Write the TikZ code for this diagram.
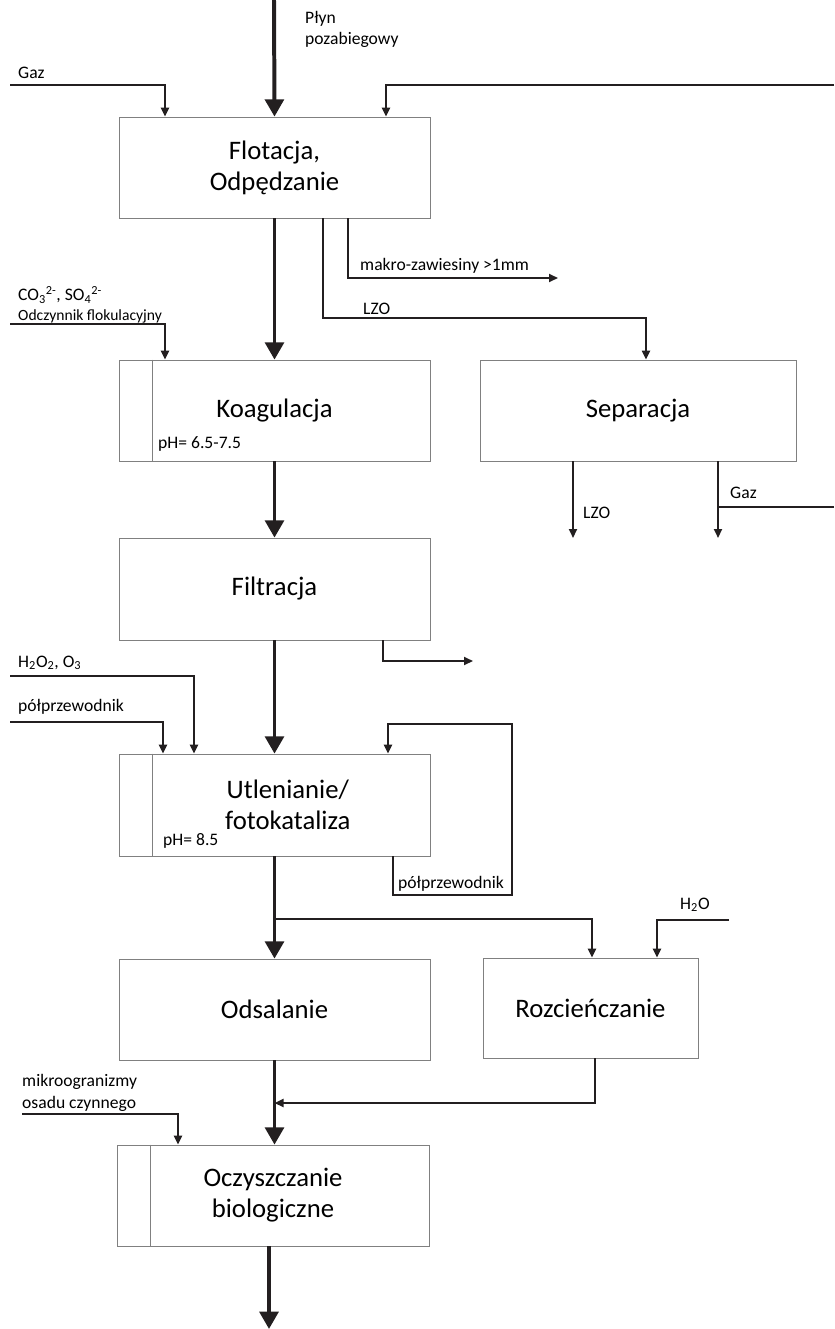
\documentclass[tikz,border=0pt]{standalone}
\usepackage{fontspec}
\setmainfont{Carlito}
\usepackage{xcolor}
\usepackage{tikz}
\usetikzlibrary{arrows.meta}
\definecolor{ciemny}{HTML}{231F20}
\definecolor{ramka}{HTML}{808080}
\tikzset{
box/.style = {rectangle, draw=ramka, line width=0.6pt, minimum width = #1, minimum height=3.03cm, inner sep=0pt, align=center, font=\fontsize{22.8}{26.5}\selectfont},
box/.default = 9.33cm, % width of a process box
gruba/.style = {draw=ciemny, line width=3.4pt, -{Triangle[length=0.52cm, width=0.56cm]}},
cienka/.style = {draw=ciemny, line width=1.7pt, -{Triangle[length=0.27cm, width=0.24cm]}},
linia/.style = {draw=ciemny, line width=1.7pt},
opis/.style = {font=\fontsize{15}{18}\selectfont, inner sep=0pt, anchor=west, align=left},
}

\begin{document}
\begin{tikzpicture}[x=0.03cm, y=-0.03cm]
    \useasboundingbox (0,0) rectangle (834,1329);
    \node[box] (flot) at (274.5,167.5) {Flotacja,\\Odpędzanie};
    \node[box] (koag) at (274.5,410.5) {Koagulacja};
    \node[box=9.48cm] (sep) at (638,410.5) {Separacja};
    \node[box, minimum height=3.06cm] (filt) at (274.5,589) {Filtracja};
    \node[box, minimum height=3.06cm] (utl) at (274.5,805) {\hspace*{0.8cm}Utlenianie/\\\hspace*{0.8cm}fotokataliza};
    \node[box] (ods) at (274.5,1009.5) {Odsalanie};
    \node[box=6.45cm, minimum height=3cm] (rozc) at (590.5,1008) {Rozcieńczanie};
    \node[box=9.36cm] (oczy) at (273,1195.5) {Oczyszczanie\\biologiczne};
    \foreach \n in {koag, utl, oczy}
        \draw[ramka, line width=0.6pt] ([xshift=1cm]\n.north west) -- ([xshift=1cm]\n.south west);
    \node[opis] (phkoag) at (158,444) {pH= 6.5-7.5};
    \node[opis] (phutl) at (163,841) {pH= 8.5};

    % wejscia do flotacji
    \coordinate (plyn) at (274,0);
    \draw[gruba] (plyn) -- (flot.north);
    \node[opis] (plynopis) at (305,29.5) {Płyn\\pozabiegowy};
    \coordinate (gaz1) at (10,85);
    \coordinate (gaz1k) at (165,85);
    \draw[cienka] (gaz1) -- (gaz1k) -- (gaz1k |- flot.north);
    \node[opis] (gaz1opis) at (18,73) {Gaz};
    \coordinate (powrot) at (834,85);
    \coordinate (powrotk) at (386,85);
    \draw[cienka] (powrot) -- (powrotk) -- (powrotk |- flot.north);

    \draw[gruba] (flot.south) -- (koag.north);
    \coordinate (makro) at (348,278);
    \coordinate (makrok) at (558,278);
    \draw[cienka] (makro |- flot.south) -- (makro) -- (makrok);
    \node[opis] (makroopis) at (360,266) {makro-zawiesiny >1mm};
    \coordinate (lzo) at (323,318);
    \coordinate (lzok) at (646,318);
    \draw[cienka] (lzo |- flot.south) -- (lzo) -- (lzok) -- (lzok |- sep.north);
    \node[opis] (lzoopis) at (363,309) {LZO};

    \coordinate (co3) at (10,324);
    \coordinate (co3k) at (165,324);
    \draw[cienka] (co3) -- (co3k) -- (co3k |- koag.north);
    \node[opis] (co3opis) at (18,295) {CO\textsubscript{3}\textsuperscript{2-}, SO\textsubscript{4}\textsuperscript{2-}};
    \node[opis, font=\fontsize{13.3}{16}\selectfont] (flokopis) at (18,316) {Odczynnik flokulacyjny};

    % separacja
    \coordinate (lzo2) at (573,538);
    \draw[cienka] (lzo2 |- sep.south) -- (lzo2);
    \node[opis] (lzo2opis) at (583,513) {LZO};
    \coordinate (gaz2) at (718,538);
    \coordinate (gaz2w) at (834,507);
    \draw[cienka] (gaz2 |- sep.south) -- (gaz2);
    \draw[linia] (gaz2w) -- (gaz2w -| gaz2);
    \node[opis] (gaz2opis) at (730,493) {Gaz};

    \draw[gruba] (koag.south) -- (filt.north);
    \coordinate (filtw) at (383,661);
    \coordinate (filtk) at (473,661);
    \draw[cienka] (filtw |- filt.south) -- (filtw) -- (filtk);

    % utlenianie
    \draw[gruba] (filt.south) -- (utl.north);
    \coordinate (h2o2) at (10,676);
    \coordinate (h2o2k) at (194,676);
    \draw[cienka] (h2o2) -- (h2o2k) -- (h2o2k |- utl.north);
    \node[opis] (h2o2opis) at (18,663) {H\textsubscript{2}O\textsubscript{2}, O\textsubscript{3}};
    \coordinate (polp) at (10,722);
    \coordinate (polpk) at (163,722);
    \draw[cienka] (polp) -- (polpk) -- (polpk |- utl.north);
    \node[opis] (polpopis) at (18,707) {półprzewodnik};
    \coordinate (petla1) at (393,895);
    \coordinate (petla2) at (512,724);
    \coordinate (petla3) at (388,724);
    \draw[cienka] (petla1 |- utl.south) -- (petla1) -| (petla2) -- (petla3) -- (petla3 |- utl.north);
    \node[opis] (petlaopis) at (398,884) {półprzewodnik};

    \draw[gruba] (utl.south) -- (ods.north);
    \coordinate (rozg) at (274,919);
    \coordinate (rozgk) at (592,919);
    \draw[cienka] (rozg) -- (rozgk) -- (rozgk |- rozc.north);
    \coordinate (h2o) at (729,920);
    \coordinate (h2ok) at (657,920);
    \draw[cienka] (h2o) -- (h2ok) -- (h2ok |- rozc.north);
    \node[opis] (h2oopis) at (680,905) {H\textsubscript{2}O};

    % oczyszczanie biologiczne
    \draw[gruba] (ods.south) -- (ods.south |- oczy.north);
    \coordinate (rozcw) at (595,1103);
    \draw[cienka] (rozcw |- rozc.south) -- (rozcw) -- (rozcw -| ods.south);
    \coordinate (mikro) at (22,1114);
    \coordinate (mikrok) at (178,1114);
    \draw[cienka] (mikro) -- (mikrok) -- (mikrok |- oczy.north);
    \node[opis] (mikroopis) at (22,1082) {mikroogranizmy};
    \node[opis] (osadopis) at (22,1104) {osadu czynnego};
    \coordinate (wyjscie) at (269,1329);
    \draw[gruba] (wyjscie |- oczy.south) -- (wyjscie);
\end{tikzpicture}
\end{document}
